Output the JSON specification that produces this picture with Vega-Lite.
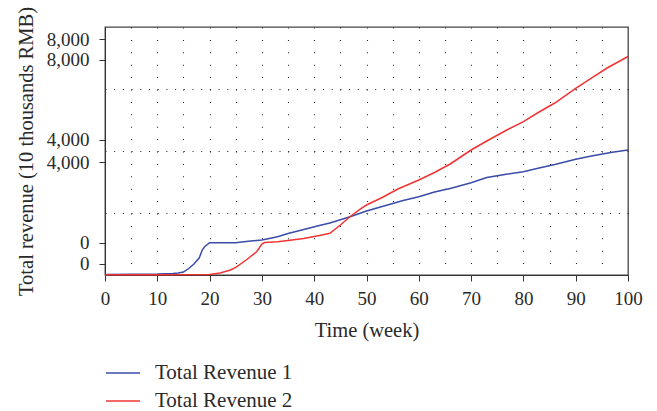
{
  "$schema": "https://vega.github.io/schema/vega-lite/v6.json",
  "width": 523,
  "height": 248,
  "autosize": {"type": "none"},
  "padding": {"left": 105, "top": 27, "right": 29, "bottom": 136},
  "background": "white",
  "config": {
    "font": "Liberation Serif",
    "view": {"stroke": "#444444", "strokeWidth": 1.3},
    "axis": {
      "labelFont": "Liberation Serif",
      "titleFont": "Liberation Serif",
      "labelColor": "#2a2a2a",
      "titleColor": "#2a2a2a",
      "labelFontSize": 19,
      "titleFontSize": 20.5,
      "titleFontWeight": "normal",
      "domainColor": "#333333",
      "tickColor": "#333333",
      "tickSize": 6,
      "gridColor": "#222222",
      "gridWidth": 1.1
    },
    "legend": {
      "labelFont": "Liberation Serif",
      "labelFontSize": 21,
      "labelColor": "#2a2a2a"
    }
  },
  "data": {
    "values": [
      {"week": 0, "revenue": 20, "series": "Total Revenue 1"},
      {"week": 5, "revenue": 32, "series": "Total Revenue 1"},
      {"week": 10, "revenue": 40, "series": "Total Revenue 1"},
      {"week": 13, "revenue": 60, "series": "Total Revenue 1"},
      {"week": 14, "revenue": 81, "series": "Total Revenue 1"},
      {"week": 15, "revenue": 121, "series": "Total Revenue 1"},
      {"week": 16, "revenue": 262, "series": "Total Revenue 1"},
      {"week": 17, "revenue": 444, "series": "Total Revenue 1"},
      {"week": 18, "revenue": 685, "series": "Total Revenue 1"},
      {"week": 18.6, "revenue": 1008, "series": "Total Revenue 1"},
      {"week": 19, "revenue": 1129, "series": "Total Revenue 1"},
      {"week": 20, "revenue": 1302, "series": "Total Revenue 1"},
      {"week": 25, "revenue": 1302, "series": "Total Revenue 1"},
      {"week": 27, "revenue": 1351, "series": "Total Revenue 1"},
      {"week": 30, "revenue": 1411, "series": "Total Revenue 1"},
      {"week": 33, "revenue": 1544, "series": "Total Revenue 1"},
      {"week": 35, "revenue": 1673, "series": "Total Revenue 1"},
      {"week": 38, "revenue": 1835, "series": "Total Revenue 1"},
      {"week": 41, "revenue": 1996, "series": "Total Revenue 1"},
      {"week": 43, "revenue": 2097, "series": "Total Revenue 1"},
      {"week": 47, "revenue": 2359, "series": "Total Revenue 1"},
      {"week": 50, "revenue": 2580, "series": "Total Revenue 1"},
      {"week": 53, "revenue": 2762, "series": "Total Revenue 1"},
      {"week": 57, "revenue": 3004, "series": "Total Revenue 1"},
      {"week": 60, "revenue": 3157, "series": "Total Revenue 1"},
      {"week": 63, "revenue": 3347, "series": "Total Revenue 1"},
      {"week": 66, "revenue": 3488, "series": "Total Revenue 1"},
      {"week": 70, "revenue": 3722, "series": "Total Revenue 1"},
      {"week": 73, "revenue": 3931, "series": "Total Revenue 1"},
      {"week": 77, "revenue": 4072, "series": "Total Revenue 1"},
      {"week": 80, "revenue": 4165, "series": "Total Revenue 1"},
      {"week": 83, "revenue": 4314, "series": "Total Revenue 1"},
      {"week": 86, "revenue": 4455, "series": "Total Revenue 1"},
      {"week": 90, "revenue": 4665, "series": "Total Revenue 1"},
      {"week": 93, "revenue": 4798, "series": "Total Revenue 1"},
      {"week": 97, "revenue": 4947, "series": "Total Revenue 1"},
      {"week": 100, "revenue": 5040, "series": "Total Revenue 1"},
      {"week": 0, "revenue": 8, "series": "Total Revenue 2"},
      {"week": 10, "revenue": 12, "series": "Total Revenue 2"},
      {"week": 20, "revenue": 20, "series": "Total Revenue 2"},
      {"week": 22, "revenue": 81, "series": "Total Revenue 2"},
      {"week": 24, "revenue": 202, "series": "Total Revenue 2"},
      {"week": 25, "revenue": 310, "series": "Total Revenue 2"},
      {"week": 27, "revenue": 605, "series": "Total Revenue 2"},
      {"week": 29, "revenue": 939, "series": "Total Revenue 2"},
      {"week": 30, "revenue": 1250, "series": "Total Revenue 2"},
      {"week": 30.5, "revenue": 1310, "series": "Total Revenue 2"},
      {"week": 33, "revenue": 1343, "series": "Total Revenue 2"},
      {"week": 35, "revenue": 1391, "series": "Total Revenue 2"},
      {"week": 38, "revenue": 1472, "series": "Total Revenue 2"},
      {"week": 41, "revenue": 1593, "series": "Total Revenue 2"},
      {"week": 43, "revenue": 1681, "series": "Total Revenue 2"},
      {"week": 45, "revenue": 2016, "series": "Total Revenue 2"},
      {"week": 47, "revenue": 2379, "series": "Total Revenue 2"},
      {"week": 49, "revenue": 2689, "series": "Total Revenue 2"},
      {"week": 50, "revenue": 2822, "series": "Total Revenue 2"},
      {"week": 53, "revenue": 3125, "series": "Total Revenue 2"},
      {"week": 56, "revenue": 3468, "series": "Total Revenue 2"},
      {"week": 60, "revenue": 3830, "series": "Total Revenue 2"},
      {"week": 63, "revenue": 4133, "series": "Total Revenue 2"},
      {"week": 66, "revenue": 4476, "series": "Total Revenue 2"},
      {"week": 70, "revenue": 5040, "series": "Total Revenue 2"},
      {"week": 73, "revenue": 5403, "series": "Total Revenue 2"},
      {"week": 77, "revenue": 5867, "series": "Total Revenue 2"},
      {"week": 80, "revenue": 6181, "series": "Total Revenue 2"},
      {"week": 83, "revenue": 6572, "series": "Total Revenue 2"},
      {"week": 86, "revenue": 6935, "series": "Total Revenue 2"},
      {"week": 90, "revenue": 7528, "series": "Total Revenue 2"},
      {"week": 93, "revenue": 7943, "series": "Total Revenue 2"},
      {"week": 96, "revenue": 8346, "series": "Total Revenue 2"},
      {"week": 100, "revenue": 8810, "series": "Total Revenue 2"}
    ]
  },
  "mark": {"type": "line", "strokeWidth": 1.5, "interpolate": "linear"},
  "encoding": {
    "x": {
      "field": "week",
      "type": "quantitative",
      "scale": {"domain": [0, 100], "nice": false},
      "axis": {
        "title": "Time (week)",
        "values": [0, 5, 10, 15, 20, 25, 30, 35, 40, 45, 50, 55, 60, 65, 70, 75, 80, 85, 90, 95, 100],
        "labelExpr": "datum.value % 10 === 0 ? datum.label : ''",
        "labelOverlap": false,
        "labelFlush": false,
        "labelPadding": 8,
        "titlePadding": 12,
        "tickOpacity": {"condition": {"test": "datum.value % 10 === 0", "value": 1}, "value": 0},
        "grid": true,
        "gridDash": [1, 11.4],
        "gridOpacity": {"condition": {"test": "datum.value > 0 && datum.value < 100", "value": 1}, "value": 0}
      }
    },
    "y": {
      "field": "revenue",
      "type": "quantitative",
      "scale": {"domain": [0, 10000], "nice": false},
      "axis": {
        "title": "Total revenue (10 thousands RMB)",
        "values": [445, 1300, 2500, 4555, 5000, 5445, 7500, 8670, 9515],
        "labelExpr": "datum.value % 2500 === 0 ? '' : (datum.value > 8000 ? '8,000' : (datum.value > 4000 ? '4,000' : '0'))",
        "labelOverlap": false,
        "labelPadding": 10,
        "titlePadding": 10,
        "tickOpacity": {"condition": {"test": "datum.value % 2500 === 0", "value": 0}, "value": 1},
        "grid": true,
        "gridDash": [1, 7.7],
        "gridOpacity": {"condition": {"test": "datum.value % 2500 === 0", "value": 1}, "value": 0}
      }
    },
    "color": {
      "field": "series",
      "type": "nominal",
      "scale": {"domain": ["Total Revenue 1", "Total Revenue 2"], "range": ["#3a4ca8", "#f03434"]},
      "legend": {
        "title": null,
        "orient": "none",
        "legendX": 0,
        "legendY": 328,
        "direction": "vertical",
        "symbolType": "stroke",
        "symbolSize": 1156,
        "symbolStrokeWidth": 1.5,
        "labelOffset": 14,
        "rowPadding": -7.4,
        "padding": 0
      }
    }
  }
}
